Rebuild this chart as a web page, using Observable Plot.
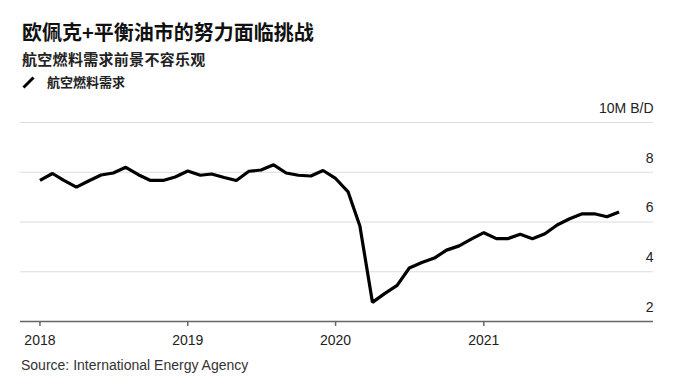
<!DOCTYPE html>
<html>
<head>
<meta charset="utf-8">
<script src="https://cdn.jsdelivr.net/npm/d3@7"></script>
<script src="https://cdn.jsdelivr.net/npm/@observablehq/plot@0.6"></script>
<style>
  html, body { margin: 0; padding: 0; background: #fff; }
  body { width: 692px; height: 388px; position: relative; overflow: hidden; }
  .t { position: absolute; white-space: nowrap; }
  #title { left: 22px; top: 21px; font: bold 20px/22px "Noto Sans CJK SC", sans-serif; color: #111; }
  #subtitle { left: 22px; top: 50px; font: bold 15px/17px "Noto Sans CJK SC", sans-serif; color: #222; letter-spacing: 0.3px; }
  #legend { left: 22px; top: 74px; font: bold 13px/16px "Noto Sans CJK SC", sans-serif; color: #222; display: flex; align-items: center; }
  #legend svg { margin-right: 12px; }
  #chart { position: absolute; left: 0; top: 95px; }
  #source { left: 21px; top: 357px; font: 14px/16px "Liberation Sans", Arial, sans-serif; color: #333; }
</style>
</head>
<body>
<div class="t" id="title"></div>
<div class="t" id="subtitle"></div>
<div class="t" id="legend"><svg width="13" height="13"><line x1="1.5" y1="11.5" x2="11.5" y2="1.5" stroke="#000" stroke-width="3"/></svg><span id="legendText"></span></div>
<div id="chart"></div>
<div class="t" id="source"></div>
<script>
const titleText = "欧佩克+平衡油市的努力面临挑战";
const subtitleText = "航空燃料需求前景不容乐观";
const seriesName = "航空燃料需求";
const sourceText = "Source: International Energy Agency";
const unitLabel = "10M B/D";

// Monthly, Jan 2018 – Dec 2021
const startYear = 2018;
const demand = [
  7.67, 7.95, 7.67, 7.40, 7.65, 7.89, 7.97, 8.20, 7.90, 7.67, 7.67, 7.81,
  8.05, 7.88, 7.93, 7.79, 7.67, 8.04, 8.09, 8.30, 7.97, 7.88, 7.85, 8.07,
  7.75, 7.21, 5.84, 2.77, 3.12, 3.45, 4.15, 4.37, 4.55, 4.87, 5.04, 5.31,
  5.57, 5.33, 5.33, 5.51, 5.33, 5.53, 5.88, 6.13, 6.33, 6.33, 6.21, 6.40
];
const xTickYears = [2018, 2019, 2020, 2021];
const xTickLabels = ["2018", "2019", "2020", "2021"];
const yGrid = [4, 6, 8, 10];
const yTickValues = [2, 4, 6, 8, 10];
const yTickLabels = ["2", "4", "6", "8", unitLabel];
const xDomain = [new Date(2017, 10, 14), new Date(2022, 1, 24)];
const yDomain = [2, 10];

document.getElementById("title").textContent = titleText;
document.getElementById("subtitle").textContent = subtitleText;
document.getElementById("legendText").textContent = seriesName;
document.getElementById("source").textContent = sourceText;

const data = demand.map((v, i) => ({date: new Date(startYear, i, 1), value: v}));
const tickDates = xTickYears.map(y => new Date(y, 0, 1));
const yTicks = yTickValues.map((v, i) => ({v, label: yTickLabels[i]}));

const chart = Plot.plot({
  width: 692,
  height: 260,
  marginLeft: 20,
  marginRight: 39,
  marginTop: 27,
  marginBottom: 34,
  style: {fontFamily: "'Liberation Sans', Arial, sans-serif", fontSize: "14px", color: "#333", background: "#fff"},
  x: {type: "time", domain: xDomain},
  y: {domain: yDomain},
  marks: [
    Plot.ruleY(yGrid, {stroke: "#dcdcdc", strokeWidth: 1}),
    Plot.ruleY([2], {stroke: "#666", strokeWidth: 1.5}),
    Plot.axisX({ticks: tickDates, tickSize: 5, tickPadding: 9, tickFormat: (d) => xTickLabels[xTickYears.indexOf(d.getFullYear())], stroke: "#666", strokeWidth: 1.5, fill: "#222", fontSize: 14, label: null}),
    Plot.axisY({ticks: [], label: null}),
    Plot.text(yTicks, {y: "v", text: "label", frameAnchor: "right", textAnchor: "end", dy: -14, fill: "#222", fontSize: 14}),
    Plot.line(data, {x: "date", y: "value", stroke: "#000", strokeWidth: 3.2, strokeLinejoin: "miter", strokeLinecap: "butt"})
  ]
});
document.getElementById("chart").appendChild(chart);
</script>
</body>
</html>
